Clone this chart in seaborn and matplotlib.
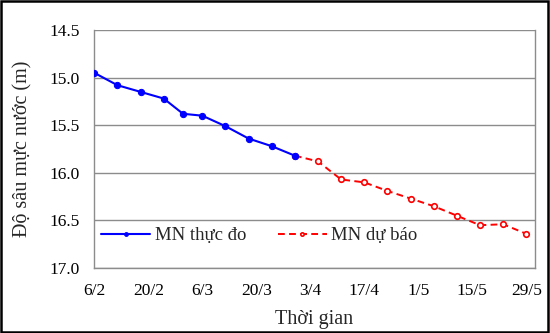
import matplotlib
matplotlib.use("Agg")
import matplotlib.pyplot as plt
import matplotlib.dates as mdates
import seaborn as sns
import pandas as pd
import numpy as np

obs_dates = ["2021-02-06", "2021-02-12", "2021-02-18", "2021-02-24", "2021-03-01",
             "2021-03-06", "2021-03-12", "2021-03-18", "2021-03-24", "2021-03-30"]
obs_depth = [14.95, 15.08, 15.15, 15.22, 15.38, 15.40, 15.51, 15.64, 15.72, 15.82]

fc_dates = ["2021-03-30", "2021-04-05", "2021-04-11", "2021-04-17", "2021-04-23",
            "2021-04-29", "2021-05-05", "2021-05-11", "2021-05-17", "2021-05-23",
            "2021-05-29"]
fc_depth = [15.82, 15.88, 16.07, 16.10, 16.19, 16.27, 16.35, 16.45, 16.55, 16.54, 16.64]

tick_dates = ["2021-02-06", "2021-02-20", "2021-03-06", "2021-03-20", "2021-04-03",
              "2021-04-17", "2021-05-01", "2021-05-15", "2021-05-29"]
tick_labels = ["6/2", "20/2", "6/3", "20/3", "3/4", "17/4", "1/5", "15/5", "29/5"]
y_ticks = [14.5, 15.0, 15.5, 16.0, 16.5, 17.0]

sns.set_style("white")
plt.rcParams['font.family'] = ['Liberation Serif', 'DejaVu Serif']

obs = pd.DataFrame({"date": pd.to_datetime(obs_dates), "depth": obs_depth})
fc = pd.DataFrame({"date": pd.to_datetime(fc_dates), "depth": fc_depth})

fig = plt.figure(figsize=(5.5, 3.33), dpi=100)
ax = fig.add_axes([0.170, 0.195, 0.803, 0.715])

sns.lineplot(data=fc, x="date", y="depth", ax=ax, color="#ff0000", linewidth=1.4,
             linestyle=(0, (3.5, 2.2)), marker="o", markersize=4,
             markerfacecolor="white", markeredgecolor="#ff0000", markeredgewidth=1.2,
             label="MN dự báo", zorder=3)
sns.lineplot(data=obs, x="date", y="depth", ax=ax, color="#0000ff", linewidth=1.5,
             marker="o", markersize=4.5, markeredgecolor="#0000ff",
             label="MN thực đo", zorder=4)

x0 = pd.Timestamp("2021-02-06")
ax.set_xlim(mdates.date2num(x0) - 0.2, mdates.date2num(x0) + 114.3)
ax.set_ylim(17.0, 14.5)
ax.set_yticks(y_ticks)
ax.set_yticklabels([f"{v:.1f}" for v in y_ticks])
ax.set_xticks(mdates.date2num(pd.to_datetime(tick_dates)))
ax.set_xticklabels(tick_labels)

ax.yaxis.grid(True, color="#8c8c8c", linewidth=1.0)
ax.xaxis.grid(False)
ax.set_axisbelow(True)
for s in ax.spines.values():
    s.set_color("#8c8c8c")
    s.set_linewidth(1.0)
ax.spines["top"].set_visible(False)
ax.tick_params(axis="both", direction="out", length=4, width=1, color="#8c8c8c",
               labelsize=12.5, labelcolor="black", pad=6)
ax.tick_params(axis="x", pad=7)

ax.set_xlabel("Thời gian", fontsize=14.5, labelpad=8)
ax.set_ylabel("Độ sâu mực nước (m)", fontsize=14.5, labelpad=12)

handles, labels = ax.get_legend_handles_labels()
order = [labels.index("MN thực đo"), labels.index("MN dự báo")]
ax.legend([handles[i] for i in order], [labels[i] for i in order], ncol=2,
          loc="center left", bbox_to_anchor=(-0.012, 0.135), frameon=False,
          fontsize=13.5, handlelength=2.6, columnspacing=1.7, handletextpad=0.25,
          markerscale=0.6, borderaxespad=0.3)

fig.patches.append(plt.Rectangle((0.002, 0.003), 0.995, 0.993, transform=fig.transFigure,
                                 fill=False, edgecolor="black", linewidth=1.8))

fig.savefig("out.png", dpi=100)
